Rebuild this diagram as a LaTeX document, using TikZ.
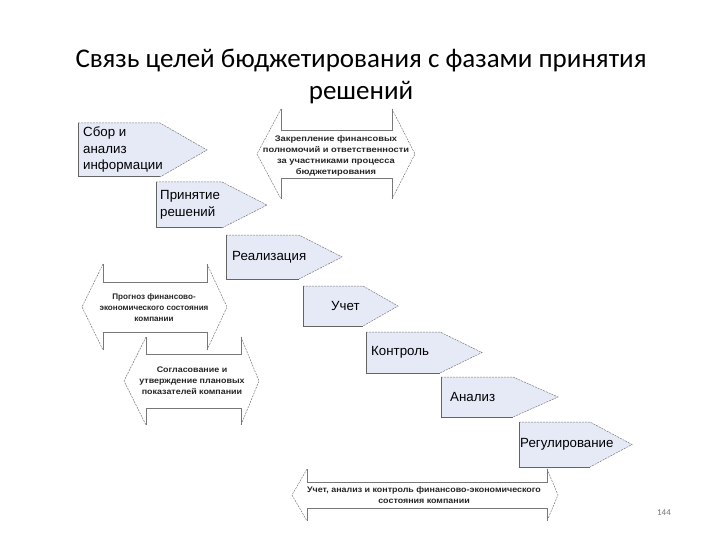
\documentclass[tikz,border=0pt]{standalone}
\usepackage{fontspec}
\setmainfont{Carlito}
\newfontfamily\arialf{Liberation Sans}
\definecolor{phfill}{RGB}{230,234,247}
\definecolor{edgegray}{RGB}{100,100,100}
\definecolor{dashgray}{RGB}{120,120,120}
\tikzset{
  phasefill/.style={fill=phfill},
  phaseedge/.style={draw=edgegray,line width=1pt},
  phasedash/.style={draw=dashgray,line width=0.5pt,dash pattern=on 2pt off 1pt},
  arrsolid/.style={draw=dashgray,line width=0.6pt},
  arrdash/.style={draw=dashgray,line width=0.5pt,dash pattern=on 2pt off 1pt},
  phtext/.style={font=\arialf\fontsize{13.3}{16.5}\selectfont,align=left,anchor=west,inner sep=0pt},
  artext/.style={font=\arialf\bfseries\fontsize{8.1}{10.9}\selectfont,align=center,inner sep=0pt,text=black!85},
}
\newcommand{\stretchlines}[2]{\scalebox{#1}[1]{\begin{tabular}{@{}c@{}}#2\end{tabular}}}
% \phase{left}{top}{slope start}{tip}{bottom}
\newcommand{\phase}[5]{%
  \fill[phasefill] (#1,#2) -- (#3,#2) -- (#4,{(#2+#5)/2}) -- (#3,#5) -- (#1,#5) -- cycle;
  \draw[phasedash] (#1,#2) -- (#3,#2) -- (#4,{(#2+#5)/2}) -- (#3,#5);
  \draw[phaseedge] (#1,#2) -- (#1,#5) -- (#3,#5);
}
% \darr{left tip}{left base}{right base}{right tip}{cy}{shaft half}{head half}
\newcommand{\darr}[7]{%
  \fill[white] (#1,#5) -- (#2,{#5-#7}) -- (#2,{#5-#6}) -- (#3,{#5-#6}) -- (#3,{#5-#7}) -- (#4,#5)
     -- (#3,{#5+#7}) -- (#3,{#5+#6}) -- (#2,{#5+#6}) -- (#2,{#5+#7}) -- cycle;
  \draw[arrdash] (#2,{#5-#7}) -- (#1,#5) -- (#2,{#5+#7});
  \draw[arrdash] (#3,{#5-#7}) -- (#4,#5) -- (#3,{#5+#7});
  \draw[arrsolid] (#2,{#5-#7}) -- (#2,{#5-#6}) -- (#3,{#5-#6}) -- (#3,{#5-#7});
  \draw[arrsolid] (#2,{#5+#7}) -- (#2,{#5+#6}) -- (#3,{#5+#6}) -- (#3,{#5+#7});
}
\begin{document}
\begin{tikzpicture}[x=1pt,y=-1pt]
\useasboundingbox[fill=white] (0,0) rectangle (720,540);

% title
\node[font=\fontsize{27}{32}\selectfont,align=center,inner sep=0pt] (title) at (361,76)
  {Связь целей бюджетирования с фазами принятия\\решений};

% double arrows (goals)
\darr{257}{281}{392}{415}{154}{24}{45}
\node[artext] (goalA) at (336,156) {\stretchlines{1.15}{Закрепление финансовых\\полномочий и ответственности\\за участниками процесса\\бюджетирования}};

\darr{82}{103}{207}{227}{307}{25}{43}
\node[artext] (goalB) at (154,308) {\stretchlines{1.0}{Прогноз финансово-\\экономического состояния\\компании}};

\darr{124}{146}{241}{259}{381}{27}{44}
\node[artext] (goalC) at (192,381) {\stretchlines{1.1}{Согласование и\\утверждение плановых\\показателей компании}};

\darr{292}{307}{547}{558}{495}{13}{26}
\node[artext] (goalD) at (424,496) {\stretchlines{1.1}{Учет, анализ и контроль финансово-экономического\\состояния компании}};

% phases
\phase{78}{123}{160}{207}{177}
\node[phtext] (p1) at (83,150) {Сбор и\\анализ\\информации};

\phase{156}{182}{222}{267}{228}
\node[phtext] (p2) at (160,205) {Принятие\\решений};

\phase{226}{235}{299}{342}{279}
\node[phtext] (p3) at (232,257) {Реализация};

\phase{303}{286}{363}{398}{326}
\node[phtext] (p4) at (331,306) {Учет};

\phase{366}{332}{440}{482}{373}
\node[phtext] (p5) at (371,352) {Контроль};

\phase{441}{377}{513}{558}{417}
\node[phtext] (p6) at (450,397) {Анализ};

\phase{519}{422}{590}{632}{467}
\node[phtext] (p7) at (520,444) {Регулирование};

% page number
\node[font=\fontsize{9}{10}\selectfont,text=black!55,inner sep=0pt] (pg) at (664,513) {144};
\end{tikzpicture}
\end{document}
